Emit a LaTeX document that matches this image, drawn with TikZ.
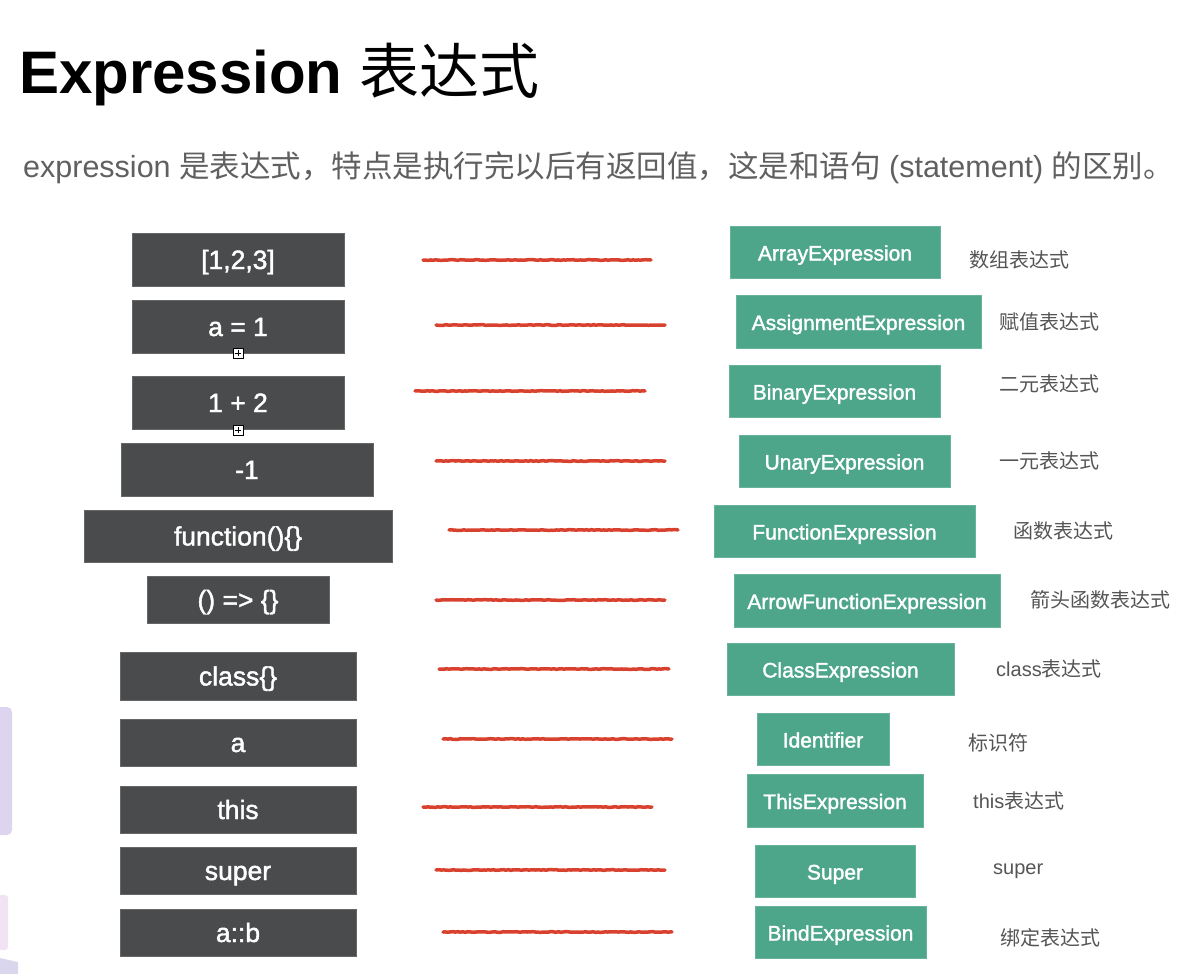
\documentclass[tikz,border=0pt]{standalone}
\usepackage{fontspec}
\setmainfont{Liberation Sans}
\newfontfamily\cjk{Noto Sans CJK SC}
\newfontfamily\boxfont[FakeBold=1.6]{Liberation Sans}
\usetikzlibrary{decorations.pathmorphing}
\definecolor{darkbox}{HTML}{4A4B4D}
\definecolor{greenbox}{HTML}{4DA68A}
\definecolor{redline}{HTML}{D9412F}
\definecolor{labelgray}{HTML}{555555}
\definecolor{subgray}{HTML}{606060}
\definecolor{lav}{HTML}{DDD5F0}
\definecolor{pinkish}{HTML}{F1E2F4}
\definecolor{lavtwo}{HTML}{DAD6EE}
\tikzset{
  lbox/.style={fill=darkbox, draw=darkbox!85!white, line width=0.6pt, text=white, inner sep=0pt,
    text height=19pt, text depth=0pt, font=\fontsize{26.5}{31}\selectfont\boxfont},
  gbox/.style={fill=greenbox, draw=greenbox!85!white, line width=0.6pt, text=white, inner sep=0pt,
    text height=17pt, text depth=0pt, minimum height=52pt, font=\fontsize{21}{25}\selectfont\boxfont},
  cnlabel/.style={anchor=west, inner sep=0pt, text=labelgray, font=\fontsize{20}{24}\selectfont\cjk},
  redstroke/.style={draw=redline, line width=3.5pt, line cap=round,
    decorate, decoration={random steps, segment length=2.5pt, amplitude=0.35pt}},
  plusbox/.style={draw=black, fill=white, line width=0.6pt, minimum size=10pt, inner sep=0pt}
}
\begin{document}
\begin{tikzpicture}[x=1pt,y=-1pt]
\useasboundingbox (0,0) rectangle (1184,974);
\fill[white] (0,0) rectangle (1184,974);
% faint background decorations at the left edge
\fill[lav, rounded corners=5pt] (-10,707) rectangle (12,835);
\fill[pinkish, rounded corners=3pt] (-6,895) rectangle (8,950);
\fill[lavtwo] (-5,957) -- (18,962) -- (18,980) -- (-5,980) -- cycle;

% title and subtitle
\node[anchor=base west, inner sep=0pt, font=\fontsize{60}{72}\selectfont] (title) at (19,93)
  {\textbf{Expression} {\cjk 表达式}};
\node[anchor=base west, inner sep=0pt, text=subgray, font=\fontsize{30.5}{36}\selectfont] (sub) at (23,177)
  {expression {\cjk 是表达式，特点是执行完以后有返回值，这是和语句} (statement) {\cjk 的区别。}};

% left boxes
\node[lbox, minimum width=212pt, minimum height=53pt] (l1) at (238,259.5) {[1,2,3]};
\node[lbox, minimum width=212pt, minimum height=53pt] (l2) at (238,326.5) {a = 1};
\node[lbox, minimum width=212pt, minimum height=53pt] (l3) at (238,402.5) {1 + 2};
\node[lbox, minimum width=252pt, minimum height=53pt] (l4) at (247,469.5) {-1};
\node[lbox, minimum width=308pt, minimum height=52pt] (l5) at (238,536) {function()\{\}};
\node[lbox, minimum width=182pt, minimum height=47pt] (l6) at (238,599.5) {() => \{\}};
\node[lbox, minimum width=236pt, minimum height=48pt] (l7) at (238,676) {class\{\}};
\node[lbox, minimum width=236pt, minimum height=47pt] (l8) at (238,742.5) {a};
\node[lbox, minimum width=236pt, minimum height=47pt] (l9) at (238,809.5) {this};
\node[lbox, minimum width=236pt, minimum height=47pt] (l10) at (238,870.5) {super};
\node[lbox, minimum width=236pt, minimum height=47pt] (l11) at (238,932.5) {a::b};

% small plus markers
\node[plusbox] (p1) at (238,353) {};
\draw[line width=0.6pt] ([yshift=-2pt]p1.north) -- ([yshift=2pt]p1.south);
\draw[line width=0.6pt] ([xshift=2pt]p1.west) -- ([xshift=-2pt]p1.east);
\node[plusbox] (p2) at (238,430) {};
\draw[line width=0.6pt] ([yshift=-2pt]p2.north) -- ([yshift=2pt]p2.south);
\draw[line width=0.6pt] ([xshift=2pt]p2.west) -- ([xshift=-2pt]p2.east);

% right boxes
\node[gbox, minimum width=210pt] (r1) at (835,252) {ArrayExpression};
\node[gbox, minimum width=245pt, minimum height=53pt] (r2) at (858.5,321.5) {AssignmentExpression};
\node[gbox, minimum width=211pt] (r3) at (834.5,391) {BinaryExpression};
\node[gbox, minimum width=211pt] (r4) at (844.5,461) {UnaryExpression};
\node[gbox, minimum width=261pt] (r5) at (844.5,531) {FunctionExpression};
\node[gbox, minimum width=266pt, minimum height=53pt] (r6) at (867,600.5) {ArrowFunctionExpression};
\node[gbox, minimum width=227pt] (r7) at (840.5,669) {ClassExpression};
\node[gbox, minimum width=132pt] (r8) at (823,739) {Identifier};
\node[gbox, minimum width=176pt, minimum height=53pt] (r9) at (835,800.5) {ThisExpression};
\node[gbox, minimum width=160pt] (r10) at (835,871) {Super};
\node[gbox, minimum width=171pt] (r11) at (840.5,932) {BindExpression};

% labels
\node[cnlabel] (t1) at (969,260) {数组表达式};
\node[cnlabel] (t2) at (999,322) {赋值表达式};
\node[cnlabel] (t3) at (999,384) {二元表达式};
\node[cnlabel] (t4) at (999,461) {一元表达式};
\node[cnlabel] (t5) at (1013,531) {函数表达式};
\node[cnlabel] (t6) at (1030,600) {箭头函数表达式};
\node[cnlabel] (t7) at (996,669) {{\rmfamily class}表达式};
\node[cnlabel] (t8) at (968,743) {标识符};
\node[cnlabel] (t9) at (973,801) {{\rmfamily this}表达式};
\node[cnlabel] (t10) at (993,871) {{\rmfamily super}};
\node[cnlabel] (t11) at (1000,938) {绑定表达式};

% red connector strokes
\coordinate (a1) at (423,260); \coordinate (b1) at (651,260);
\coordinate (a2) at (436,325); \coordinate (b2) at (665,325);
\coordinate (a3) at (415,391); \coordinate (b3) at (645,391);
\coordinate (a4) at (436,461); \coordinate (b4) at (665,461);
\coordinate (a5) at (449,530); \coordinate (b5) at (678,530);
\coordinate (a6) at (436,600); \coordinate (b6) at (665,600);
\coordinate (a7) at (439,669); \coordinate (b7) at (669,669);
\coordinate (a8) at (443,739); \coordinate (b8) at (672,739);
\coordinate (a9) at (423,807); \coordinate (b9) at (652,807);
\coordinate (a10) at (436,870); \coordinate (b10) at (665,870);
\coordinate (a11) at (443,932); \coordinate (b11) at (672,932);
\foreach \i in {1,...,11} {
  \draw[redstroke] (a\i) -- (b\i);
}
\end{tikzpicture}
\end{document}
